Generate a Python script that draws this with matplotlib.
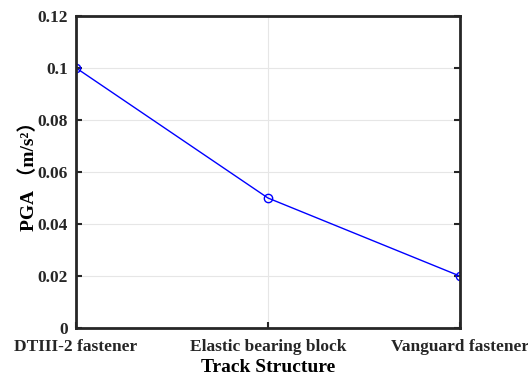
import matplotlib.pyplot as plt

# Peak ground acceleration per track structure
estructuras = ['DTIII-2 fastener', 'Elastic bearing block', 'Vanguard fastener']
pga = [0.10, 0.05, 0.02]
yticks = [0, 0.02, 0.04, 0.06, 0.08, 0.1, 0.12]
ytick_labels = ['0', '0.02', '0.04', '0.06', '0.08', '0.1', '0.12']

plt.rcParams['font.family'] = ['Liberation Serif', 'Noto Sans CJK SC']
plt.rcParams['font.weight'] = 'bold'

fig = plt.figure(figsize=(5.28, 3.78), dpi=100)
ax = fig.add_axes([0.144, 0.132, 0.727, 0.826])

x = range(len(estructuras))
ax.plot(x, pga, color='#0000ff', linewidth=1, marker='o', markersize=6,
        markerfacecolor='none', markeredgecolor='#0000ff', markeredgewidth=1)

ax.set_xlim(0, len(estructuras) - 1)
ax.set_ylim(0, 0.12)
ax.set_xticks(list(x))
ax.set_xticklabels(estructuras, fontsize=12.5, fontweight='bold')
ax.set_yticks(yticks)
ax.set_yticklabels(ytick_labels, fontsize=12.5, fontweight='bold')
ax.grid(True, color='#e6e6e6', linewidth=0.8)
ax.set_axisbelow(True)

ax.tick_params(direction='in', length=4, width=1.5, colors='#262626', top=False, right=True)
ax.tick_params(axis='x', pad=8)
ax.tick_params(axis='y', pad=6)
for s in ax.spines.values():
    s.set_linewidth(2)
    s.set_color('#262626')

ax.set_xlabel('Track Structure', fontsize=14, fontweight='bold', labelpad=3)
ax.set_ylabel('PGA （m/s²）', fontsize=14, fontweight='bold', labelpad=0)
ax.yaxis.set_label_coords(-0.10, 0.5)

fig.savefig('out.png', dpi=100)
